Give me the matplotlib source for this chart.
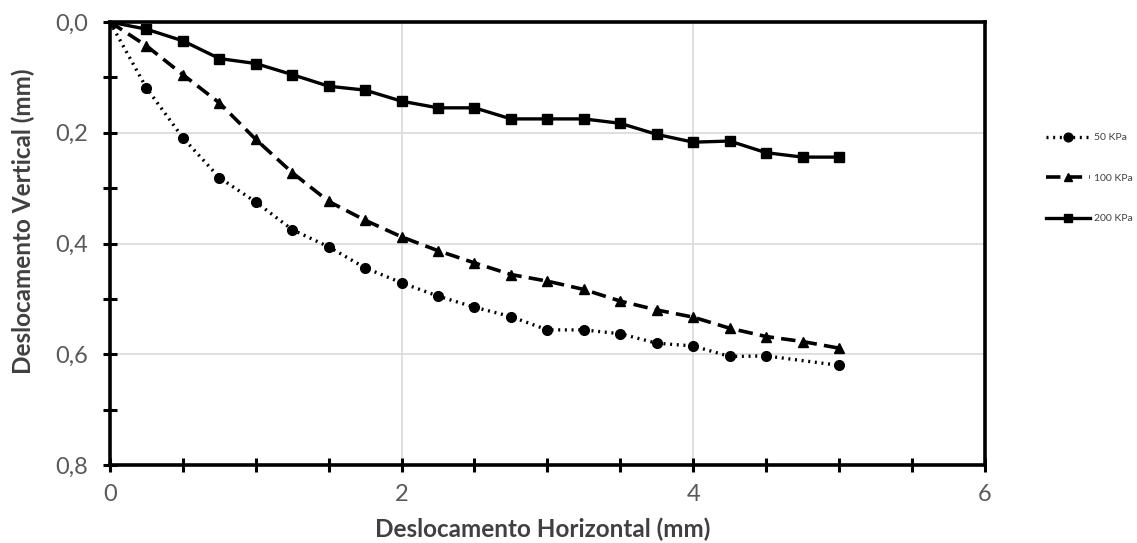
import numpy as np
import matplotlib.pyplot as plt
from matplotlib.ticker import MultipleLocator, FuncFormatter

plt.rcParams['font.family'] = ['Lato', 'DejaVu Sans']

# horizontal displacement (mm), step 0.25
x_disp = [0.0, 0.25, 0.5, 0.75, 1.0, 1.25, 1.5, 1.75, 2.0, 2.25, 2.5,
          2.75, 3.0, 3.25, 3.5, 3.75, 4.0, 4.25, 4.5, 4.75, 5.0]

# 50 KPa has no point at 4.75
x_50 = [0.0, 0.25, 0.5, 0.75, 1.0, 1.25, 1.5, 1.75, 2.0, 2.25, 2.5,
        2.75, 3.0, 3.25, 3.5, 3.75, 4.0, 4.25, 4.5, 5.0]
v_50 = [0.0, 0.119, 0.209, 0.281, 0.325, 0.375, 0.406, 0.444, 0.471, 0.495, 0.515,
        0.532, 0.556, 0.556, 0.563, 0.580, 0.585, 0.604, 0.603, 0.620]

v_100 = [0.0, 0.043, 0.095, 0.146, 0.212, 0.272, 0.324, 0.358, 0.388, 0.413, 0.435,
         0.456, 0.468, 0.483, 0.504, 0.520, 0.533, 0.553, 0.568, 0.577, 0.589]

v_200 = [0.0, 0.013, 0.034, 0.066, 0.075, 0.095, 0.116, 0.123, 0.143, 0.155, 0.155,
         0.175, 0.175, 0.175, 0.183, 0.203, 0.217, 0.215, 0.236, 0.244, 0.244]

labels = ["50 KPa", "100 KPa", "200 KPa"]


def comma(v, pos):
    return "{:.1f}".format(v).replace(".", ",")


fig = plt.figure(figsize=(11.37, 5.43), dpi=100)
ax = fig.add_axes([0.0967, 0.1436, 0.7695, 0.8159])

ax.plot(x_50, v_50, color="black", linestyle=(0, (0.6, 1.4)), linewidth=2.4,
        marker="o", markersize=7, label=labels[0])
ax.plot(x_disp, v_100, color="black", linestyle=(0, (4, 2)), linewidth=2.6,
        marker="^", markersize=7, label=labels[1])
ax.plot(x_disp, v_200, color="black", linestyle="-", linewidth=2.4,
        marker="s", markersize=7, label=labels[2])

ax.set_xlim(0, 6)
ax.set_ylim(0.8, 0.0)

ax.xaxis.set_major_locator(MultipleLocator(2))
ax.xaxis.set_minor_locator(MultipleLocator(0.5))
ax.yaxis.set_major_locator(MultipleLocator(0.2))
ax.yaxis.set_minor_locator(MultipleLocator(0.1))
ax.yaxis.set_major_formatter(FuncFormatter(comma))

ax.grid(True, which="major", color="#d9d9d9", linewidth=1.2)
ax.set_axisbelow(True)

for s in ax.spines.values():
    s.set_linewidth(2.6)
    s.set_color("black")

ax.tick_params(which="both", direction="inout", length=9.5, width=2.2,
               color="black", labelcolor="#595959", labelsize=17)
ax.tick_params(axis="y", pad=11)
ax.tick_params(axis="x", pad=9)

ax.set_xlabel("Deslocamento Horizontal (mm)", fontsize=17.5, fontweight="bold",
              color="#404040")
ax.set_ylabel("Deslocamento Vertical (mm)", fontsize=17.5, fontweight="bold",
              color="#404040")
ax.xaxis.set_label_coords(0.495, -0.118)
ax.yaxis.set_label_coords(-0.086, 0.55)

fig.legend(loc="center left", bbox_to_anchor=(0.912, 0.672), frameon=False,
           fontsize=7.5, labelspacing=3.0, handlelength=4.2, handletextpad=0.4,
           markerscale=0.9, labelcolor="#404040")

fig.savefig("out.png", dpi=100)
